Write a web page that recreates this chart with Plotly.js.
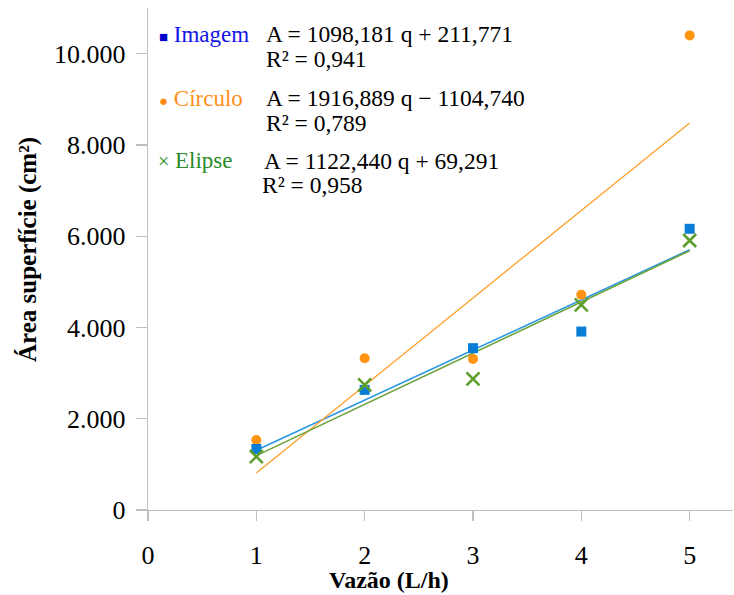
<!DOCTYPE html>
<html>
<head>
<meta charset="utf-8">
<script src="https://cdn.plot.ly/plotly-3.0.1.min.js"></script>
<style>html,body{margin:0;padding:0;background:#fff}#chart{width:734px;height:595px}</style>
</head>
<body>
<div id="chart"></div>
<script>
// Data
const vazao = [1, 2, 3, 4, 5];
const imagem = [1338, 2632, 3546, 3910, 6162];
const circulo = [1535, 3326, 3311, 4715, 10400];
const elipse = [1169, 2741, 2873, 4496, 5906];

// Trendline end points (x = 1 and x = 5), as shown in the chart
const trendX = [1, 5];
const trendImagem = [1310, 5703];
const trendCirculo = [812, 8480];
const trendElipse = [1192, 5682];

const seriesNames = ["Imagem", "Círculo", "Elipse"];
const equations = ["A = 1098,181 q + 211,771", "A = 1916,889 q − 1104,740", "A = 1122,440 q + 69,291"];
const r2Labels = ["R² = 0,941", "R² = 0,789", "R² = 0,958"];

const xTicks = [0, 1, 2, 3, 4, 5];
const yTicks = [0, 2000, 4000, 6000, 8000, 10000];

// layout geometry (pixels)
const L = 148, R = 733, T = 8, B = 510;
const W = 734, H = 595;
const px = x => (x - L) / (R - L);
const py = y => (B - y) / (B - T);

const serif = "Liberation Serif";

const cBlueMk = "#0A7DD6", cOrangeMk = "#FF9312", cGreenMk = "#5E9E2C";
const cBlueLn = "#2B98E2", cOrangeLn = "#FFA232", cGreenLn = "#6CA23C";

const traces = [
  {x: trendX, y: trendImagem, mode: "lines", line: {color: cBlueLn, width: 1.6}, showlegend: false, hoverinfo: "skip"},
  {x: trendX, y: trendCirculo, mode: "lines", line: {color: cOrangeLn, width: 1.4}, showlegend: false, hoverinfo: "skip"},
  {x: trendX, y: trendElipse, mode: "lines", line: {color: cGreenLn, width: 1.6}, showlegend: false, hoverinfo: "skip"},
  {x: vazao, y: circulo, name: seriesNames[1], mode: "markers", marker: {symbol: "circle", size: 10, color: cOrangeMk, line: {width: 0}}, showlegend: false},
  {x: vazao, y: imagem, name: seriesNames[0], mode: "markers", marker: {symbol: "square", size: 10, color: cBlueMk, line: {width: 0}}, showlegend: false},
  {x: vazao, y: elipse, name: seriesNames[2], mode: "markers", marker: {symbol: "x-thin-open", size: 13, color: cGreenMk, line: {width: 2.6, color: cGreenMk}}, showlegend: false}
];

const legendColors = ["#1414E6", "#FF9020", "#2A8C2A"];
const legendSymColors = ["#0000CC", "#FF8C10", "#2A8C2A"];
const legendSyms = ["■", "●", "×"];
const rowY = [34.5, 98.5, 161];
const r2Y = [58.5, 122.5, 185];
const eqX = [264.5, 264.5, 263];
const nameX = [158, 158, 157];

const annotations = [];
for (let i = 0; i < 3; i++) {
  annotations.push({
    xref: "paper", yref: "paper", x: px(nameX[i]), y: py(rowY[i]), xanchor: "left", yanchor: "middle", borderpad: 0,
    text: '<span style="font-size:' + (i === 2 ? 20 : 15) + 'px;color:' + legendSymColors[i] + '">' + legendSyms[i] + '</span> ' + seriesNames[i],
    showarrow: false, font: {family: serif, size: 23, color: legendColors[i]}
  });
  annotations.push({
    xref: "paper", yref: "paper", x: px(eqX[i]), y: py(rowY[i]), xanchor: "left", yanchor: "middle", borderpad: 0,
    text: equations[i], showarrow: false, font: {family: serif, size: 23.5, color: "#000"}
  });
  annotations.push({
    xref: "paper", yref: "paper", x: px(eqX[i] - (i === 2 ? 2 : 0)), y: py(r2Y[i]), xanchor: "left", yanchor: "middle", borderpad: 0,
    text: r2Labels[i], showarrow: false, font: {family: serif, size: 23.5, color: "#000"}
  });
}
// axis titles
annotations.push({
  xref: "paper", yref: "paper", x: px(389), y: py(580), xanchor: "center", yanchor: "middle",
  text: "<b>Vazão (L/h)</b>", showarrow: false, font: {family: serif, size: 24, color: "#000"}
});
annotations.push({
  xref: "paper", yref: "paper", x: px(28), y: py(250), xanchor: "center", yanchor: "middle", textangle: -90,
  text: "<b>Área superfície (cm²)</b>", showarrow: false, font: {family: serif, size: 25, color: "#000"}
});

const layout = {
  width: W, height: H,
  margin: {l: L, r: W - R, t: T, b: H - B, pad: 0},
  paper_bgcolor: "#fff", plot_bgcolor: "#fff",
  separators: ",.",
  showlegend: false,
  font: {family: serif},
  xaxis: {
    range: [0, 5.4], tickvals: xTicks, ticktext: xTicks.map(String),
    showgrid: false, zeroline: false, showline: true, linecolor: "#BFBFBF", linewidth: 1.3,
    ticks: "outside", ticklen: 10, tickcolor: "#BFBFBF", tickwidth: 1.3,
    tickfont: {family: serif, size: 26, color: "#000"}, ticklabelstandoff: 11
  },
  yaxis: {
    range: [0, 11000], tickvals: yTicks, tickformat: ",",
    showgrid: false, zeroline: false, showline: true, linecolor: "#BFBFBF", linewidth: 1.3,
    ticks: "outside", ticklen: 11, tickcolor: "#BFBFBF", tickwidth: 1.3,
    tickfont: {family: serif, size: 26, color: "#000"}, ticklabelstandoff: 5
  },
  annotations: annotations
};

Plotly.newPlot("chart", traces, layout, {displayModeBar: false, staticPlot: true});
</script>
</body>
</html>
